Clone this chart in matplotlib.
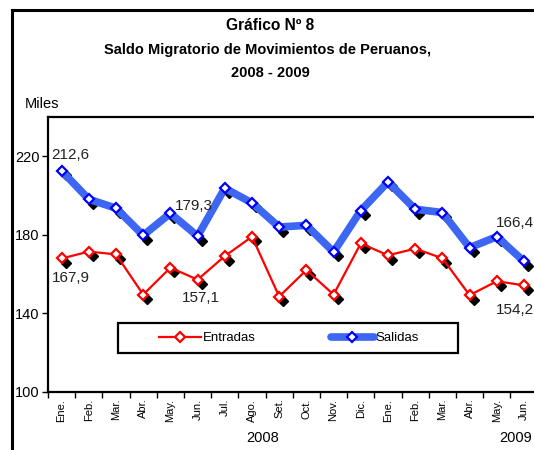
import matplotlib
matplotlib.use("Agg")
import matplotlib.pyplot as plt
import matplotlib.font_manager as fm
from matplotlib.lines import Line2D
from matplotlib.patches import Rectangle
from matplotlib.transforms import offset_copy

months = ["Ene.", "Feb.", "Mar.", "Abr.", "May.", "Jun.", "Jul.", "Ago.", "Set.",
          "Oct.", "Nov.", "Dic.", "Ene.", "Feb.", "Mar.", "Abr.", "May.", "Jun."]
entradas = [167.9, 171.4, 170.0, 149.5, 163.2, 157.1, 169.1, 179.0, 148.5,
            162.0, 149.5, 175.6, 169.5, 172.9, 168.0, 149.2, 156.3, 154.2]
salidas = [212.6, 198.1, 193.5, 179.7, 190.9, 179.3, 203.7, 196.2, 183.9,
           184.8, 171.2, 192.3, 206.9, 193.0, 191.3, 173.4, 179.0, 166.4]
yticks = [100, 140, 180, 220]
years = ["2008", "2009"]

names = {f.name for f in fm.fontManager.ttflist}
narrow = "Liberation Sans Narrow" if "Liberation Sans Narrow" in names else "Liberation Sans"
plt.rcParams["font.family"] = [narrow, "DejaVu Sans"]

W, H = 534, 450
fig = plt.figure(figsize=(W / 100, H / 100), dpi=100)
fig.patch.set_facecolor("white")

def fx(px):
    return px / W

def fy(py):
    return 1 - py / H

ax = fig.add_axes([fx(48), fy(391.7), fx(537.6) - fx(48), fy(117) - fy(391.7)])
x = list(range(len(months)))

red = "#FF0000"
blue_line = "#3D66F2"
blue_edge = "#0000FF"

shadow_tr = offset_copy(ax.transData, fig=fig, x=4, y=-4.5, units="dots")
ax.plot(x, entradas, linestyle="none", marker="D", ms=5.5, mfc="black", mec="black",
        transform=shadow_tr, zorder=2)
ax.plot(x, salidas, linestyle="none", marker="D", ms=5.5, mfc="black", mec="black",
        transform=shadow_tr, zorder=2)
ax.plot(x, salidas, color=blue_line, lw=5.5, solid_joinstyle="miter", zorder=3)
ax.plot(x, entradas, color=red, lw=1.6, zorder=3)
ax.plot(x, salidas, linestyle="none", marker="D", ms=5, mfc="white", mec=blue_edge,
        mew=1.6, zorder=4)
ax.plot(x, entradas, linestyle="none", marker="D", ms=5, mfc="white", mec=red,
        mew=1.6, zorder=4)

ax.set_xlim(-0.5, len(months) - 0.5)
ax.set_ylim(100, 240)
ax.set_yticks(yticks)
ax.set_yticklabels([str(v) for v in yticks], fontsize=10.5)
ax.set_xticks(x)
ax.set_xticklabels(months, rotation=90, fontsize=8)
ax.set_xticks([i - 0.5 for i in range(len(months) + 1)], minor=True)
ax.tick_params(axis="x", which="major", length=0, pad=5)
ax.tick_params(axis="x", which="minor", length=4, width=1, direction="out")
ax.tick_params(axis="y", length=4, width=1, direction="out", pad=2)
for s in ax.spines.values():
    s.set_linewidth(1.6)
    s.set_color("black")

lab = dict(family="Liberation Sans", fontsize=11, color="#222222",
           textcoords="offset pixels", zorder=6)
ax.annotate("212,6", (0, salidas[0]), xytext=(-10, 12), ha="left", va="baseline", **lab)
ax.annotate("179,3", (5, salidas[5]), xytext=(-23, 26), ha="left", va="baseline", **lab)
ax.annotate("166,4", (17, salidas[17]), xytext=(-28, 34), ha="left", va="baseline", **lab)
ax.annotate("167,9", (0, entradas[0]), xytext=(-10, -13), ha="left", va="top", **lab)
ax.annotate("157,1", (5, entradas[5]), xytext=(-16, -11), ha="left", va="top", **lab)
ax.annotate("154,2", (17, entradas[17]), xytext=(-28, -18), ha="left", va="top", **lab)

# legend box
box = Rectangle((fx(118), fy(353)), fx(458) - fx(118), fy(323) - fy(353),
                transform=fig.transFigure, facecolor="white", edgecolor="black",
                lw=1.6, zorder=8, clip_on=False)
ax.add_patch(box)
h1 = Line2D([], [], color=red, lw=1.6, marker="D", ms=5, mfc="white", mec=red, mew=1.6)
h2 = Line2D([], [], color=blue_line, lw=5.5, solid_capstyle="round", marker="D", ms=5,
            mfc="white", mec=blue_edge, mew=1.6)
leg = ax.legend([h1, h2], ["Entradas", "Salidas"], loc="center",
                bbox_to_anchor=(fx(289), fy(338)), bbox_transform=fig.transFigure,
                ncol=2, frameon=False, fontsize=9.5, handlelength=3.2,
                handletextpad=0.15, columnspacing=5.7)
leg.set_zorder(9)

# titles
fig.text(fx(270), fy(25), "Gráfico Nº 8", ha="center", va="center", fontsize=11.2,
         fontweight="bold")
fig.text(fx(268), fy(50), "Saldo Migratorio de Movimientos de Peruanos,", ha="center",
         va="center", fontsize=10.5, fontweight="bold")
fig.text(fx(270), fy(73), "2008 - 2009", ha="center", va="center", fontsize=10.5,
         fontweight="bold")
fig.text(fx(25), fy(104), "Miles", ha="left", va="center", fontsize=10.5)
fig.text(fx(263), fy(438), years[0], ha="center", va="center", fontsize=10.5)
fig.text(fx(516), fy(438), years[1], ha="center", va="center", fontsize=10.5)

# outer frame (left and top)
fig.add_artist(Line2D([fx(12), fx(12)], [0, fy(10)], color="black", lw=2.2,
                      transform=fig.transFigure, solid_capstyle="projecting"))
fig.add_artist(Line2D([fx(12), 1], [fy(10), fy(10)], color="black", lw=2.2,
                      transform=fig.transFigure, solid_capstyle="projecting"))

fig.savefig("out.png", dpi=100, facecolor="white")
